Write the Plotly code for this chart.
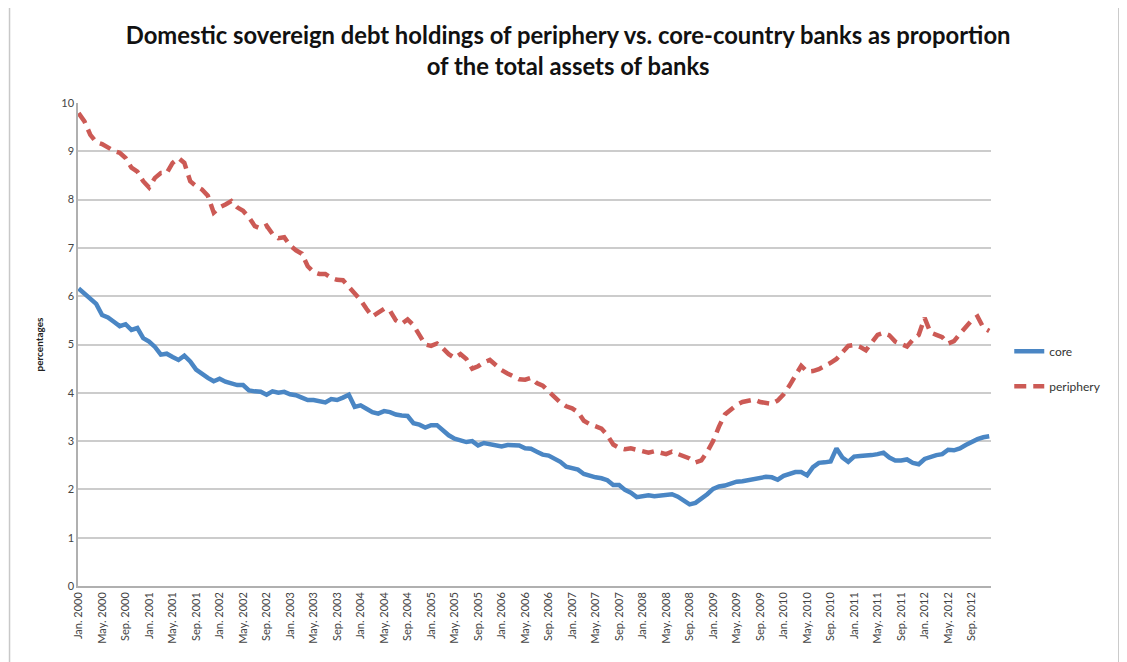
import plotly.graph_objects as go

# monthly observations, Jan. 2000 .. Dec. 2012
month_names = ['Jan.', 'Feb.', 'Mar.', 'Apr.', 'May.', 'Jun.',
               'Jul.', 'Aug.', 'Sep.', 'Oct.', 'Nov.', 'Dec.']
years = list(range(2000, 2013))
months = [m + ' ' + str(y) for y in years for m in month_names]

core = [
    6.16, 6.05, 5.92, 5.84, 5.61, 5.56, 5.47, 5.38, 5.42, 5.30, 5.34, 5.13,
    5.06, 4.95, 4.79, 4.81, 4.74, 4.68, 4.77, 4.65, 4.48, 4.38, 4.31, 4.24,
    4.29, 4.23, 4.20, 4.16, 4.16, 4.05, 4.03, 4.02, 3.96, 4.03, 4.00, 4.02,
    3.97, 3.95, 3.90, 3.85, 3.85, 3.83, 3.80, 3.87, 3.85, 3.90, 3.96, 3.71,
    3.74, 3.67, 3.60, 3.57, 3.62, 3.60, 3.55, 3.53, 3.52, 3.37, 3.34, 3.28,
    3.33, 3.33, 3.21, 3.12, 3.05, 3.01, 2.98, 3.00, 2.91, 2.96, 2.94, 2.91,
    2.89, 2.92, 2.92, 2.91, 2.85, 2.84, 2.78, 2.72, 2.70, 2.64, 2.57, 2.47,
    2.44, 2.41, 2.32, 2.28, 2.25, 2.23, 2.19, 2.09, 2.09, 1.99, 1.93, 1.84,
    1.85, 1.88, 1.86, 1.87, 1.88, 1.90, 1.85, 1.76, 1.69, 1.72, 1.80, 1.90,
    2.01, 2.06, 2.08, 2.12, 2.16, 2.17, 2.19, 2.22, 2.23, 2.26, 2.25, 2.20,
    2.28, 2.33, 2.36, 2.36, 2.29, 2.46, 2.55, 2.56, 2.58, 2.85, 2.66, 2.57,
    2.68, 2.69, 2.69, 2.71, 2.73, 2.76, 2.66, 2.60, 2.60, 2.62, 2.55, 2.52,
    2.63, 2.68, 2.71, 2.73, 2.82, 2.81, 2.85, 2.92, 2.99, 3.04, 3.08, 3.10,
]

periphery = [
    9.79, 9.62, 9.34, 9.19, 9.15, 9.08, 9.01, 8.97, 8.86, 8.66, 8.58, 8.38,
    8.25, 8.45, 8.55, 8.55, 8.76, 8.86, 8.76, 8.38, 8.28, 8.21, 8.08, 7.73,
    7.84, 7.90, 7.97, 7.84, 7.77, 7.63, 7.45, 7.40, 7.46, 7.29, 7.20, 7.22,
    7.05, 6.95, 6.88, 6.62, 6.50, 6.46, 6.46, 6.38, 6.34, 6.33, 6.20, 6.05,
    5.92, 5.74, 5.58, 5.66, 5.74, 5.70, 5.50, 5.43, 5.52, 5.40, 5.18, 5.00,
    4.97, 5.02, 4.92, 4.80, 4.72, 4.80, 4.70, 4.50, 4.55, 4.63, 4.68, 4.57,
    4.47, 4.40, 4.33, 4.28, 4.27, 4.31, 4.20, 4.15, 4.03, 3.90, 3.80, 3.72,
    3.68, 3.60, 3.42, 3.35, 3.31, 3.26, 3.12, 2.93, 2.86, 2.83, 2.85, 2.82,
    2.78, 2.76, 2.79, 2.75, 2.73, 2.78, 2.73, 2.70, 2.64, 2.56, 2.60, 2.78,
    3.00, 3.30, 3.55, 3.65, 3.75, 3.81, 3.83, 3.86, 3.81, 3.78, 3.77, 3.84,
    3.97, 4.15, 4.35, 4.56, 4.44, 4.45, 4.49, 4.55, 4.62, 4.70, 4.85, 4.97,
    4.99, 4.95, 4.88, 5.05, 5.20, 5.24, 5.19, 5.06, 5.00, 4.96, 5.10, 5.20,
    5.55, 5.25, 5.20, 5.15, 5.02, 5.07, 5.22, 5.36, 5.50, 5.58, 5.35, 5.28,
]

tick_labels = months[::4]

fig = go.Figure()
fig.add_trace(go.Scatter(x=months, y=core, name='core', mode='lines',
                         legendgroup='core',
                         line=dict(color='#4a86c4', width=4.5)))
fig.add_trace(go.Scatter(x=months, y=periphery, name='periphery', mode='lines',
                         legendgroup='periphery',
                         line=dict(color='#cc5a55', width=4.5, dash='12px,7px')))

fig.update_layout(
    width=1127, height=662,
    margin=dict(l=70, r=144, t=95, b=84),
    paper_bgcolor='white', plot_bgcolor='white',
    font=dict(family='Lato, sans-serif', color='#333333'),
    title=dict(text='Domestic sovereign debt holdings of periphery vs. core-country banks as proportion'
                    '<br>of the total assets of banks',
               x=0.497, xanchor='center', y=0.945, yanchor='top',
               font=dict(family='Lato', size=23.8, color='#111111', weight='bold')),
    legend=dict(x=1.02, xanchor='left', y=0.45, yanchor='middle',
                font=dict(size=12, color='#333333'), tracegroupgap=16),
    showlegend=True,
)

fig.update_xaxes(type='category', tickmode='array', tickvals=tick_labels,
                 ticktext=tick_labels, tickangle=-90,
                 tickfont=dict(size=11, color='#444444'),
                 range=[-0.1, 155.3], showgrid=False,
                 showline=True, linecolor='#b0b0b0', linewidth=1.5)
fig.update_yaxes(range=[0, 10], dtick=1, showgrid=True, gridcolor='#cccccc',
                 gridwidth=1.5, zeroline=False,
                 showline=True, linecolor='#b0b0b0', linewidth=1.5,
                 tickfont=dict(size=11, color='#444444'),
                 title=dict(text='percentages', standoff=16,
                            font=dict(size=10, color='#222222', weight='bold')))

# light frame round the chart area
fig.add_shape(type='rect', xref='paper', yref='paper',
              x0=-0.075, x1=1.14, y0=-0.16, y1=1.2,
              line=dict(color='#c8c8c8', width=1.5))

fig.write_html("out.html")
